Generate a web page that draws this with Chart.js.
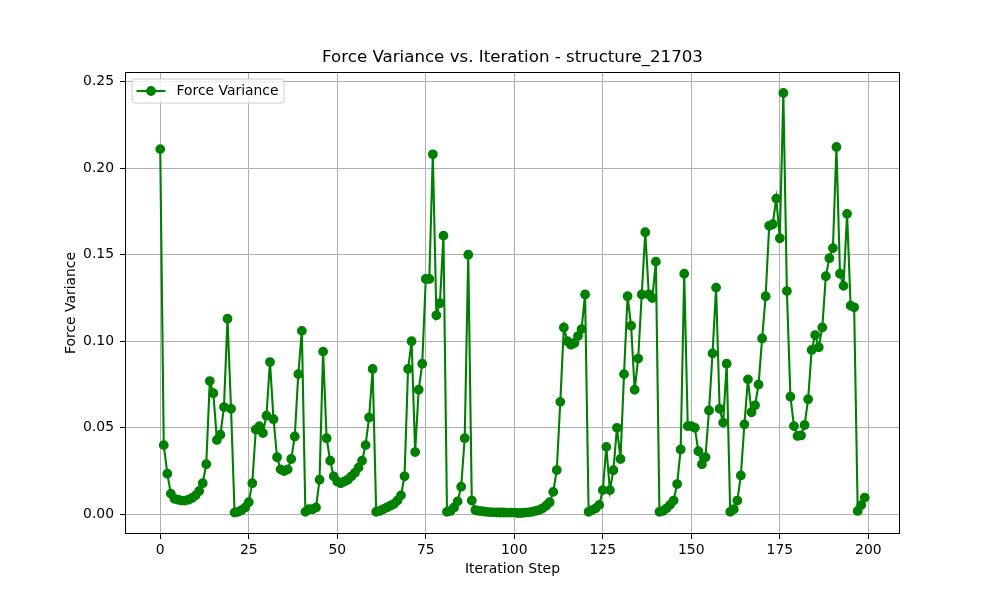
<!DOCTYPE html>
<html>
<head>
<meta charset="utf-8">
<title>Force Variance vs. Iteration - structure_21703</title>
<script src="https://cdn.jsdelivr.net/npm/chart.js@4.4.0/dist/chart.umd.min.js"></script>
<style>
  html, body { margin: 0; padding: 0; background: #fff; }
  #wrap { width: 1000px; height: 600px; }
</style>
</head>
<body>
<div id="wrap"><canvas id="forceChart" width="1000" height="600"></canvas></div>
<script>
// values, one per iteration step (0..199)
const forceVariance = [
  0.211, 0.040, 0.0235, 0.012, 0.009, 0.0085, 0.008, 0.008, 0.0085, 0.0095,
  0.011, 0.0135, 0.018, 0.029, 0.077, 0.070, 0.043, 0.046, 0.062, 0.113,
  0.061, 0.001, 0.0015, 0.0025, 0.004, 0.007, 0.018, 0.049, 0.051, 0.047,
  0.057, 0.088, 0.055, 0.033, 0.026, 0.025, 0.026, 0.032, 0.045, 0.081,
  0.106, 0.0015, 0.003, 0.003, 0.004, 0.020, 0.094, 0.044, 0.031, 0.022,
  0.019, 0.018, 0.019, 0.020, 0.022, 0.024, 0.027, 0.031, 0.040, 0.056,
  0.084, 0.0015, 0.002, 0.003, 0.004, 0.005, 0.006, 0.008, 0.011, 0.022,
  0.084, 0.100, 0.036, 0.072, 0.087, 0.136, 0.136, 0.208, 0.115, 0.122,
  0.161, 0.0015, 0.002, 0.004, 0.0075, 0.016, 0.044, 0.150, 0.008, 0.0025,
  0.002, 0.0018, 0.0015, 0.0013, 0.0012, 0.0012, 0.0011, 0.0011, 0.001, 0.001,
  0.001, 0.0008, 0.0008, 0.001, 0.0012, 0.0015, 0.002, 0.0025, 0.0035, 0.005,
  0.007, 0.013, 0.0256, 0.065, 0.108, 0.100, 0.098, 0.099, 0.103, 0.107,
  0.127, 0.0015, 0.0025, 0.0035, 0.0055, 0.014, 0.039, 0.014, 0.0255, 0.050,
  0.032, 0.081, 0.126, 0.109, 0.072, 0.090, 0.127, 0.163, 0.127, 0.125,
  0.146, 0.0015, 0.002, 0.0035, 0.0055, 0.008, 0.0175, 0.0375, 0.139, 0.051,
  0.051, 0.050, 0.0365, 0.029, 0.033, 0.060, 0.093, 0.131, 0.061, 0.053,
  0.087, 0.0015, 0.003, 0.008, 0.0225, 0.052, 0.078, 0.059, 0.063, 0.075,
  0.1016, 0.126, 0.1667, 0.1676, 0.1824, 0.1595, 0.2434, 0.129, 0.068, 0.051,
  0.0453, 0.0456, 0.0516, 0.0665, 0.095, 0.1036, 0.0965, 0.108, 0.1376, 0.148,
  0.1538, 0.2122, 0.139, 0.132, 0.1736, 0.1206, 0.1196, 0.002, 0.0054, 0.0097
];
const xTicks = [0, 25, 50, 75, 100, 125, 150, 175, 200];
const yTicks = [0, 0.05, 0.10, 0.15, 0.20, 0.25];

const seriesLabel = 'Force Variance';
const chartTitle = 'Force Variance vs. Iteration - structure_21703';
const xTitle = 'Iteration Step';
const yTitle = 'Force Variance';

const FONT = '"DejaVu Sans", "Liberation Sans", sans-serif';
const GREEN = '#008000';

// matplotlib style 5% margins round the data
const lastStep = forceVariance.length - 1;
const yLo = Math.min(...forceVariance), yHi = Math.max(...forceVariance);
const xPad = lastStep * 0.05, yPad = (yHi - yLo) * 0.05;

Chart.defaults.color = '#000';
Chart.defaults.font.family = FONT;

// black frame round the axes, like the matplotlib spines
const frame = {
  id: 'frame',
  afterDatasetsDraw(chart) {
    const {ctx, chartArea: a} = chart;
    ctx.save();
    ctx.strokeStyle = '#000';
    ctx.lineWidth = 1;
    ctx.strokeRect(Math.round(a.left) + 0.5, Math.round(a.top) + 0.5,
                   Math.round(a.right - a.left) - 1, Math.round(a.bottom - a.top) - 1);
    ctx.restore();
  }
};

// legend box in the upper left corner of the axes
const boxLegend = {
  id: 'boxLegend',
  afterDraw(chart) {
    const {ctx, chartArea: a} = chart;
    const ds = chart.data.datasets[0];
    const x = a.left + 7, y = a.top + 7, w = 152, h = 24, r = 3;
    ctx.save();
    ctx.beginPath();
    ctx.moveTo(x + r, y);
    ctx.arcTo(x + w, y, x + w, y + h, r);
    ctx.arcTo(x + w, y + h, x, y + h, r);
    ctx.arcTo(x, y + h, x, y, r);
    ctx.arcTo(x, y, x + w, y, r);
    ctx.closePath();
    ctx.fillStyle = 'rgba(255,255,255,0.8)';
    ctx.fill();
    ctx.strokeStyle = '#cccccc';
    ctx.lineWidth = 1;
    ctx.stroke();

    const cy = y + h / 2;
    ctx.strokeStyle = ds.borderColor;
    ctx.lineWidth = ds.borderWidth;
    ctx.beginPath();
    ctx.moveTo(x + 4.5, cy);
    ctx.lineTo(x + 33.5, cy);
    ctx.stroke();
    ctx.beginPath();
    ctx.arc(x + 19, cy, ds.pointRadius, 0, Math.PI * 2);
    ctx.fillStyle = ds.pointBackgroundColor;
    ctx.fill();
    ctx.lineWidth = ds.pointBorderWidth;
    ctx.stroke();

    ctx.fillStyle = '#000';
    ctx.font = '13.9px ' + FONT;
    ctx.textBaseline = 'middle';
    ctx.fillText(ds.label, x + 44.5, cy);
    ctx.restore();
  }
};

new Chart(document.getElementById('forceChart'), {
  type: 'line',
  data: {
    datasets: [{
      label: seriesLabel,
      data: forceVariance.map((v, i) => ({x: i, y: v})),
      borderColor: GREEN,
      backgroundColor: GREEN,
      borderWidth: 2.1,
      pointRadius: 4.2,
      pointBorderWidth: 1.4,
      pointBackgroundColor: GREEN,
      pointBorderColor: GREEN,
      tension: 0,
      fill: false
    }]
  },
  options: {
    responsive: false,
    animation: false,
    layout: {padding: {top: 48, left: 0, right: 100, bottom: 0}},
    plugins: {
      legend: {display: false},
      tooltip: {enabled: false},
      title: {
        display: true,
        text: chartTitle,
        fullSize: false,
        color: '#000',
        font: {family: FONT, size: 16.67, weight: 'normal'},
        padding: {top: 0, bottom: 4}
      }
    },
    scales: {
      x: {
        type: 'linear',
        min: -xPad,
        max: lastStep + xPad,
        afterBuildTicks: s => { s.ticks = xTicks.map(v => ({value: v})); },
        afterFit: s => { s.height = 66; },
        ticks: {
          autoSkip: false, maxRotation: 0, padding: 3, color: '#000',
          font: {family: FONT, size: 13.9},
          callback: v => String(v)
        },
        grid: {color: '#b0b0b0', lineWidth: 1, tickLength: 5, tickColor: '#000', tickWidth: 1},
        border: {display: false},
        title: {
          display: true, text: xTitle, color: '#000',
          font: {family: FONT, size: 13.9},
          padding: {top: 0, bottom: 22}
        }
      },
      y: {
        type: 'linear',
        min: yLo - yPad,
        max: yHi + yPad,
        afterBuildTicks: s => { s.ticks = yTicks.map(v => ({value: v})); },
        afterFit: s => { s.width = 125; },
        ticks: {
          autoSkip: false, padding: 6, color: '#000',
          font: {family: FONT, size: 13.9},
          callback: v => v.toFixed(2)
        },
        grid: {color: '#b0b0b0', lineWidth: 1, tickLength: 5, tickColor: '#000', tickWidth: 1},
        border: {display: false},
        title: {
          display: true, text: yTitle, color: '#000',
          font: {family: FONT, size: 13.9},
          padding: {top: 63.5, bottom: 0}
        }
      }
    }
  },
  plugins: [frame, boxLegend]
});
</script>
</body>
</html>
